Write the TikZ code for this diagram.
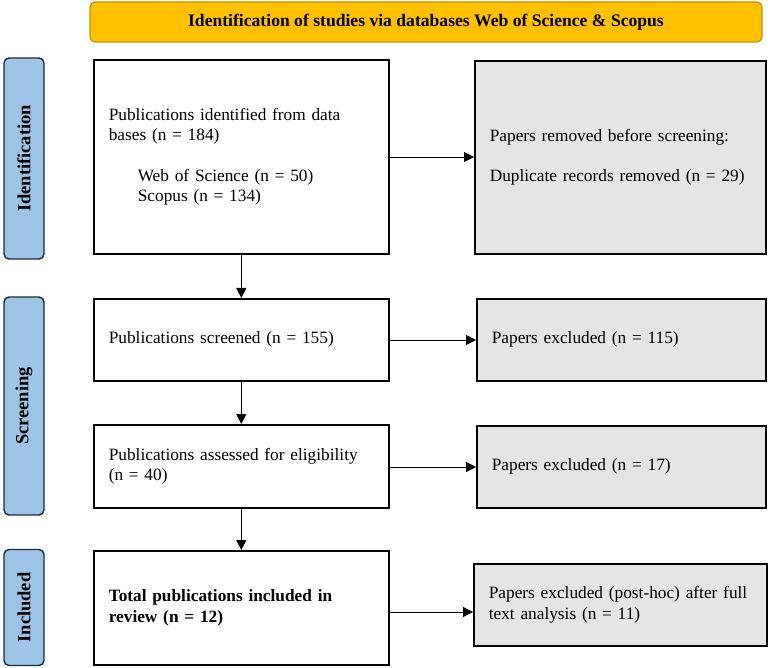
\documentclass[tikz,border=0pt]{standalone}
\usepackage{fontspec}
\setmainfont{Liberation Serif}
\usetikzlibrary{arrows.meta}
\definecolor{bannerfill}{HTML}{FFC000}
\definecolor{bannerdraw}{HTML}{C09000}
\definecolor{sidefill}{HTML}{9DC3E6}
\definecolor{sidedraw}{HTML}{1F2A38}
\definecolor{grayfill}{HTML}{E5E5E5}
\tikzset{
  mainbox/.style={draw=black, line width=1.6pt, fill=white, anchor=north west, align=left, inner xsep=15pt, inner ysep=0pt, font=\fontsize{17.3}{20.5}\selectfont},
  graybox/.style={mainbox, fill=grayfill},
  sidebox/.style={draw=sidedraw, line width=1.4pt, fill=sidefill, rounded corners=5pt, rotate=90, font=\fontsize{18.5}{20}\selectfont\bfseries, inner sep=0pt},
  arr/.style={line width=0.9pt, -{Triangle[length=10pt,width=10pt]}},
}
\begin{document}
\begin{tikzpicture}[x=1pt,y=-1pt]
\useasboundingbox (0,0) rectangle (768,668);
% banner
\node[draw=bannerdraw, line width=1.2pt, fill=bannerfill, rounded corners=5pt, minimum width=672pt, minimum height=40pt, inner sep=0pt, font=\fontsize{17.6}{19}\selectfont\bfseries] (banner) at (426,22) {Identification of studies via databases Web of Science \& Scopus};
% side labels
\node[sidebox, minimum width=201pt, minimum height=40pt] (sid) at (24,158.5) {Identification};
\node[sidebox, minimum width=218pt, minimum height=40pt] (sscr) at (24,406) {Screening};
\node[sidebox, minimum width=116pt, minimum height=40pt] (sinc) at (24,607.5) {Included};
% main boxes
\node[mainbox, text width=265pt, minimum height=194pt] (b1) at (93,59) {Publications identified from data\\bases (n = 184)\\[20pt]
\hspace*{29pt}Web of Science (n = 50)\\\hspace*{29pt}Scopus (n = 134)};
\node[mainbox, text width=265pt, minimum height=82pt] (b2) at (93,298) {Publications screened (n = 155)};
\node[mainbox, text width=265pt, minimum height=83pt] (b3) at (93,424) {Publications assessed for eligibility\\(n = 40)};
\node[mainbox, text width=265pt, minimum height=114pt, font=\fontsize{17.3}{20.5}\selectfont\bfseries] (b4) at (93,550) {Total publications included in\\review (n = 12)};
% gray boxes
\node[graybox, text width=261pt, minimum height=193pt] (r1) at (474,60) {Papers removed before screening:\\[19pt]Duplicate records removed (n = 29)};
\node[graybox, text width=259pt, minimum height=82pt] (r2) at (476,298) {Papers excluded (n = 115)};
\node[graybox, text width=259pt, minimum height=82pt] (r3) at (476,425) {Papers excluded (n = 17)};
\node[graybox, text width=263pt, minimum height=82pt] (r4) at (473,563) {Papers excluded (post-hoc) after full\\text analysis (n = 11)};
% arrows
\draw[arr] (b1.south) -- (b2.north);
\draw[arr] (b2.south) -- (b3.north);
\draw[arr] (b3.south) -- (b4.north);
\coordinate (y1) at (0,157);
\coordinate (y2) at (0,340);
\coordinate (y3) at (0,467);
\coordinate (y4) at (0,612);
\draw[arr] (b1.east |- y1) -- (r1.west |- y1);
\draw[arr] (b2.east |- y2) -- (r2.west |- y2);
\draw[arr] (b3.east |- y3) -- (r3.west |- y3);
\draw[arr] (b4.east |- y4) -- (r4.west |- y4);
\end{tikzpicture}
\end{document}
